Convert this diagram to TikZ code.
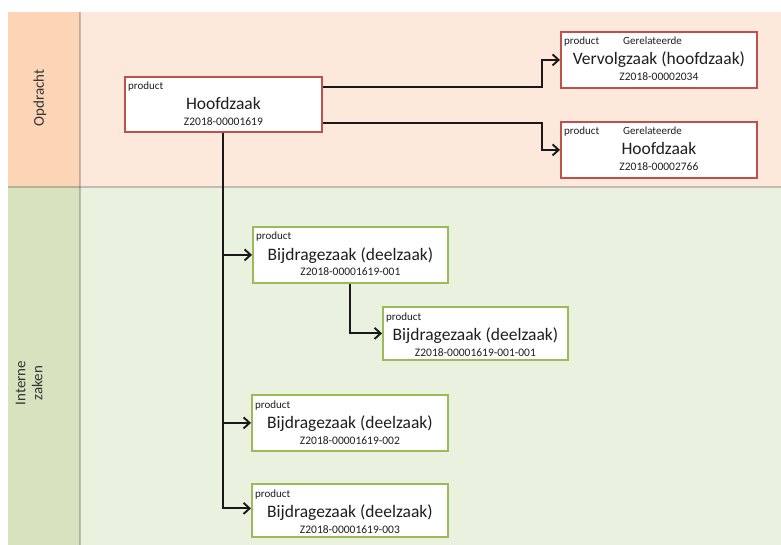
\documentclass[tikz,border=0pt]{standalone}
\usepackage{fontspec}
\setmainfont{Carlito}
\usetikzlibrary{arrows.meta}
\definecolor{headA}{HTML}{FBD5B6}
\definecolor{bodyA}{HTML}{FDE9DC}
\definecolor{headB}{HTML}{D7E3BE}
\definecolor{bodyB}{HTML}{EBF1DF}
\definecolor{redbd}{HTML}{C0504D}
\definecolor{greenbd}{HTML}{9BBB59}
\definecolor{txt}{HTML}{1E1E1E}
\tikzset{
  redbox/.style={draw=redbd, line width=1.8pt, fill=white, inner sep=0pt},
  greenbox/.style={draw=greenbd, line width=1.8pt, fill=white, inner sep=0pt},
  prodtext/.style={inner sep=0pt, text=txt, font=\fontsize{11}{13}\selectfont},
  titletext/.style={inner sep=0pt, text=txt, font=\fontsize{17.5}{20}\selectfont},
  idtext/.style={inner sep=0pt, text=txt, font=\fontsize{11.5}{13}\selectfont},
  lanelabel/.style={inner sep=0pt, text=black!80, align=center, font=\fontsize{15}{17}\selectfont},
  lanesep/.style={draw=black, opacity=0.2, line width=1.6pt},
  conn/.style={draw=black!90, line width=1.9pt, -{Straight Barb[length=6pt,width=11pt,line width=1.9pt]}},
}
% #1 name, #2 style, #3 left x, #4 top y, #5 width, #6 height, #7 title, #8 id
\newcommand\zaakbox[8]{%
  \node[#2, minimum width=#5, minimum height=#6, anchor=north west] (#1) at (#3,#4) {};
  \node[prodtext, anchor=base west] (#1-p) at ([xshift=4pt,yshift=-14pt]#1.north west) {product};
  \node[titletext, anchor=base] (#1-t) at ([yshift=-34pt]#1.north) {#7};
  \node[idtext, anchor=base] (#1-i) at ([yshift=-50pt]#1.north) {#8};
}
\begin{document}
\begin{tikzpicture}[x=1pt,y=-1pt]
\useasboundingbox (0,0) rectangle (781,545);
% lanes
\fill[headA] (8,12) rectangle (80,187);
\fill[bodyA] (80,12) rectangle (781,187);
\fill[headB] (8,187) rectangle (80,545);
\fill[bodyB] (80,187) rectangle (781,545);
\draw[lanesep] (80,12) -- (80,545);
\draw[lanesep] (8,187) -- (781,187);
\node[lanelabel, rotate=90] (lane1) at (40,98) {Opdracht};
\node[lanelabel, rotate=90] (lane2) at (29,383) {Interne\\zaken};
% boxes
\zaakbox{hz}{redbox}{124}{76}{197}{55}{Hoofdzaak}{Z2018-00001619}
\zaakbox{vz}{redbox}{560}{31}{196}{56}{Vervolgzaak (hoofdzaak)}{Z2018-00002034}
\node[prodtext, anchor=base west] (vz-g) at ([xshift=63pt,yshift=-14pt]vz.north west) {Gerelateerde};
\zaakbox{gh}{redbox}{560}{121}{196}{56}{Hoofdzaak}{Z2018-00002766}
\node[prodtext, anchor=base west] (gh-g) at ([xshift=63pt,yshift=-14pt]gh.north west) {Gerelateerde};
\zaakbox{b1}{greenbox}{252}{226}{195}{56}{Bijdragezaak (deelzaak)}{Z2018-00001619-001}
\zaakbox{sb}{greenbox}{382}{306}{185}{53}{Bijdragezaak (deelzaak)}{Z2018-00001619-001-001}
\zaakbox{b2}{greenbox}{251}{394}{196}{56}{Bijdragezaak (deelzaak)}{Z2018-00001619-002}
\zaakbox{b3}{greenbox}{251}{483}{196}{53}{Bijdragezaak (deelzaak)}{Z2018-00001619-003}
% connectors
\draw[conn] ([yshift=-11pt]hz.north east) -- ++(219,0) |- (vz.west);
\draw[conn] ([yshift=10pt]hz.south east) -- ++(219,0) |- (gh.west);
\draw[conn] (hz.south) |- ([yshift=2pt]b3.west);
\draw[conn] (hz.south |- b1.west) -- (b1.west);
\draw[conn] (hz.south |- b2.west) -- (b2.west);
\draw[conn] (b1.south) |- (sb.west);
\end{tikzpicture}
\end{document}
